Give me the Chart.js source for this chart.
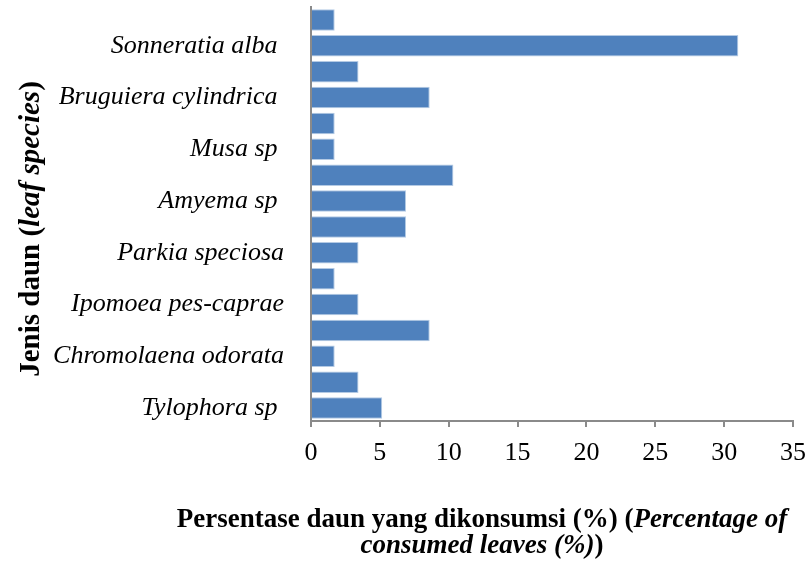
<!DOCTYPE html>
<html lang="id">
<head>
  <meta charset="UTF-8">
  <title>Jenis daun</title>
  <script src="https://cdn.jsdelivr.net/npm/chart.js"></script>
  <style>
    html, body { margin: 0; padding: 0; background: #fff; }
    #wrap { width: 808px; height: 563px; }
  </style>
</head>
<body>
<div id="wrap"><canvas id="barra"></canvas></div>
<script>
// jenis daun (kategori tanpa nama dibiarkan kosong, seperti di gambar)
const kategori = [
  '', 'Sonneratia alba ', '', 'Bruguiera cylindrica ', '', 'Musa sp ', '', 'Amyema sp ',
  '', 'Parkia speciosa', '', 'Ipomoea pes-caprae', '', 'Chromolaena odorata', '', 'Tylophora sp '
];
// persentase daun yang dikonsumsi (%)
const persentase = [1.72, 31.03, 3.45, 8.62, 1.72, 1.72, 10.34, 6.90, 6.90, 3.45, 1.72, 3.45, 8.62, 1.72, 3.45, 5.17];
const tickX = [0, 5, 10, 15, 20, 25, 30, 35];

const serif = "'Liberation Serif', 'Times New Roman', serif";
const abu = '#8a8a8a';

// gambar teks dengan campuran tebal / tebal miring
function tulisCampur(ctx, bagian, x, y, size) {
  let total = 0;
  bagian.forEach(b => {
    ctx.font = (b.miring ? 'italic ' : '') + 'bold ' + size + 'px ' + serif;
    b.w = ctx.measureText(b.t).width;
    total += b.w;
  });
  let cx = x - total / 2;
  bagian.forEach(b => {
    ctx.font = (b.miring ? 'italic ' : '') + 'bold ' + size + 'px ' + serif;
    ctx.fillText(b.t, cx, y);
    cx += b.w;
  });
}

const judulPlugin = {
  id: 'judul',
  afterDraw(chart) {
    const ctx = chart.ctx;
    ctx.save();
    ctx.fillStyle = '#000';
    ctx.textBaseline = 'alphabetic';
    // judul sumbu x
    tulisCampur(ctx, [
      {t: 'Persentase daun yang dikonsumsi (%) ('},
      {t: 'Percentage of', miring: true}
    ], 482, 527, 27);
    tulisCampur(ctx, [
      {t: 'consumed leaves (%)', miring: true},
      {t: ')'}
    ], 482, 553, 27);
    // judul sumbu y
    ctx.translate(39, 229);
    ctx.rotate(-Math.PI / 2);
    tulisCampur(ctx, [
      {t: 'Jenis daun ('},
      {t: 'leaf species', miring: true},
      {t: ')'}
    ], 0, 0, 29);
    ctx.restore();
  }
};

new Chart(document.getElementById('barra'), {
  type: 'bar',
  data: {
    labels: kategori,
    datasets: [{
      data: persentase,
      backgroundColor: '#4f81bd',
      borderColor: '#b4cae4',
      borderWidth: 1,
      barPercentage: 1,
      categoryPercentage: 0.83
    }]
  },
  options: {
    indexAxis: 'y',
    responsive: true,
    maintainAspectRatio: false,
    animation: false,
    layout: { padding: { top: 7, right: 15, left: 0, bottom: 0 } },
    plugins: { legend: { display: false }, tooltip: { enabled: false } },
    scales: {
      x: {
        min: 0, max: 35,
        afterFit(scale) {
          scale.height = 142;
          scale.paddingLeft = 0;
          scale.paddingRight = 0;
        },
        afterBuildTicks(scale) { scale.ticks = tickX.map(v => ({ value: v })); },
        grid: { drawOnChartArea: false, drawTicks: true, tickLength: 6, color: abu, lineWidth: 2 },
        border: { display: true, color: abu, width: 2 },
        ticks: { color: '#000', padding: 11, font: { family: serif, size: 26 }, maxRotation: 0 }
      },
      y: {
        afterFit(scale) {
          scale.width = 311;
          scale.paddingTop = 0;
          scale.paddingBottom = 0;
        },
        grid: { display: false, drawTicks: false },
        border: { display: true, color: abu, width: 2 },
        ticks: { color: '#000', padding: 27, autoSkip: false, font: { family: serif, size: 26, style: 'italic' } }
      }
    }
  },
  plugins: [judulPlugin]
});
</script>
</body>
</html>
